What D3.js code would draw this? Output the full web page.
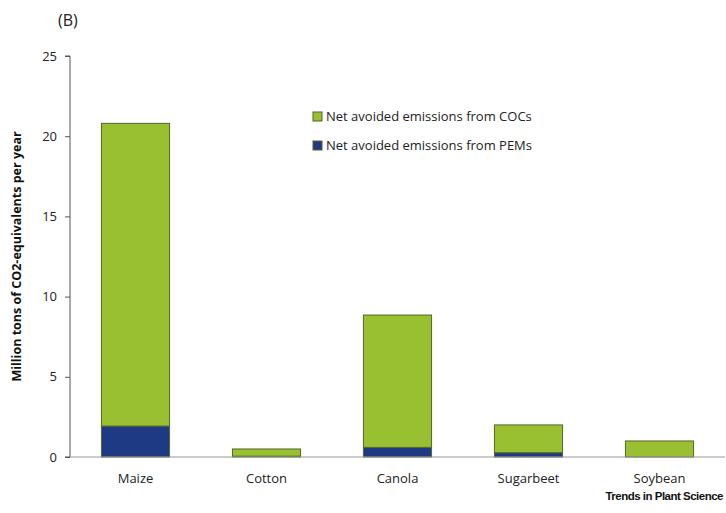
<!DOCTYPE html>
<html>
<head>
<meta charset="utf-8">
<script src="https://cdn.jsdelivr.net/npm/d3@7"></script>
<style>
  body { margin: 0; background: #fff; }
  svg { font-family: "Open Sans", sans-serif; }
</style>
</head>
<body>
<div id="chart"></div>
<script>
"use strict";
const crops = ["Maize", "Cotton", "Canola", "Sugarbeet", "Soybean"];
const pemValues = [1.93, 0.05, 0.6, 0.27, 0];
const cocValues = [18.87, 0.45, 8.25, 1.73, 1.0];
const seriesNames = ["Net avoided emissions from COCs", "Net avoided emissions from PEMs"];
const seriesColors = ["#99c031", "#1f3a85"];
const yTicks = [0, 5, 10, 15, 20, 25];

const W = 726, H = 513;
const margin = { top: 56, right: 1, bottom: 56, left: 70 };
const innerW = W - margin.left - margin.right;
const innerH = H - margin.top - margin.bottom;

const svg = d3.select("#chart").append("svg")
    .attr("width", W)
    .attr("height", H);
const g = svg.append("g").attr("transform", `translate(${margin.left},${margin.top})`);

const x = d3.scaleBand().domain(crops).range([0, innerW]).paddingInner(0.48).paddingOuter(0.24);
const y = d3.scaleLinear().domain([0, 25]).range([innerH, 0]);

const rows = crops.map((c, i) => ({ crop: c, pem: pemValues[i], coc: cocValues[i] }));
const stacked = d3.stack().keys(["pem", "coc"])(rows);
const colorOf = { pem: seriesColors[1], coc: seriesColors[0] };

g.selectAll("g.layer")
    .data(stacked)
    .join("g")
    .attr("class", "layer")
    .attr("fill", d => colorOf[d.key])
    .selectAll("rect")
    .data(d => d.filter(s => s[1] - s[0] > 0).map(s => Object.assign(s, { crop: s.data.crop })))
    .join("rect")
    .attr("x", d => x(d.crop))
    .attr("y", d => y(d[1]))
    .attr("width", x.bandwidth())
    .attr("height", d => y(d[0]) - y(d[1]))
    .attr("stroke", "#55652a")
    .attr("stroke-width", 1);

// y axis
const yAxis = g.append("g")
    .call(d3.axisLeft(y).tickValues(yTicks).tickSize(5).tickPadding(8));
yAxis.select(".domain").attr("stroke", "#555").attr("d", `M-5,${innerH}H0V0H-5`);
yAxis.selectAll(".tick line").attr("stroke", "#555");
yAxis.selectAll(".tick text").attr("font-size", 13).attr("fill", "#222").attr("font-family", "Open Sans");

// x axis
g.append("line")
    .attr("x1", 0).attr("x2", innerW)
    .attr("y1", innerH).attr("y2", innerH)
    .attr("stroke", "#999").attr("stroke-width", 1.2);
g.selectAll("text.cat")
    .data(crops)
    .join("text")
    .attr("class", "cat")
    .attr("x", d => x(d) + x.bandwidth() / 2)
    .attr("y", innerH + 26)
    .attr("text-anchor", "middle")
    .attr("font-size", 13)
    .attr("fill", "#222")
    .text(d => d);

// axis title
svg.append("text")
    .attr("transform", `translate(21,${margin.top + innerH / 2}) rotate(-90)`)
    .attr("text-anchor", "middle")
    .attr("font-size", 12.5)
    .attr("font-weight", "bold")
    .attr("fill", "#111")
    .text("Million tons of CO2-equivalents per year");

svg.append("text")
    .attr("x", 58).attr("y", 26)
    .attr("font-size", 16)
    .attr("fill", "#222")
    .text("(B)");

// legend
const legend = svg.append("g").attr("transform", "translate(313,112)");
const legendItems = legend.selectAll("g")
    .data(seriesNames)
    .join("g")
    .attr("transform", (d, i) => `translate(0,${i * 29})`);
legendItems.append("rect")
    .attr("width", 9).attr("height", 9)
    .attr("fill", (d, i) => seriesColors[i])
    .attr("stroke", "#55652a");
legendItems.append("text")
    .attr("x", 13).attr("y", 9)
    .attr("font-size", 13)
    .attr("fill", "#222")
    .text(d => d);

// watermark
svg.append("text")
    .attr("x", 723).attr("y", 500)
    .attr("text-anchor", "end")
    .attr("font-family", "Liberation Sans Narrow, Liberation Sans, sans-serif")
    .attr("font-size", 11.5)
    .attr("font-weight", "bold")
    .attr("letter-spacing", -0.5)
    .attr("fill", "#111")
    .text("Trends in Plant Science");
</script>
</body>
</html>
